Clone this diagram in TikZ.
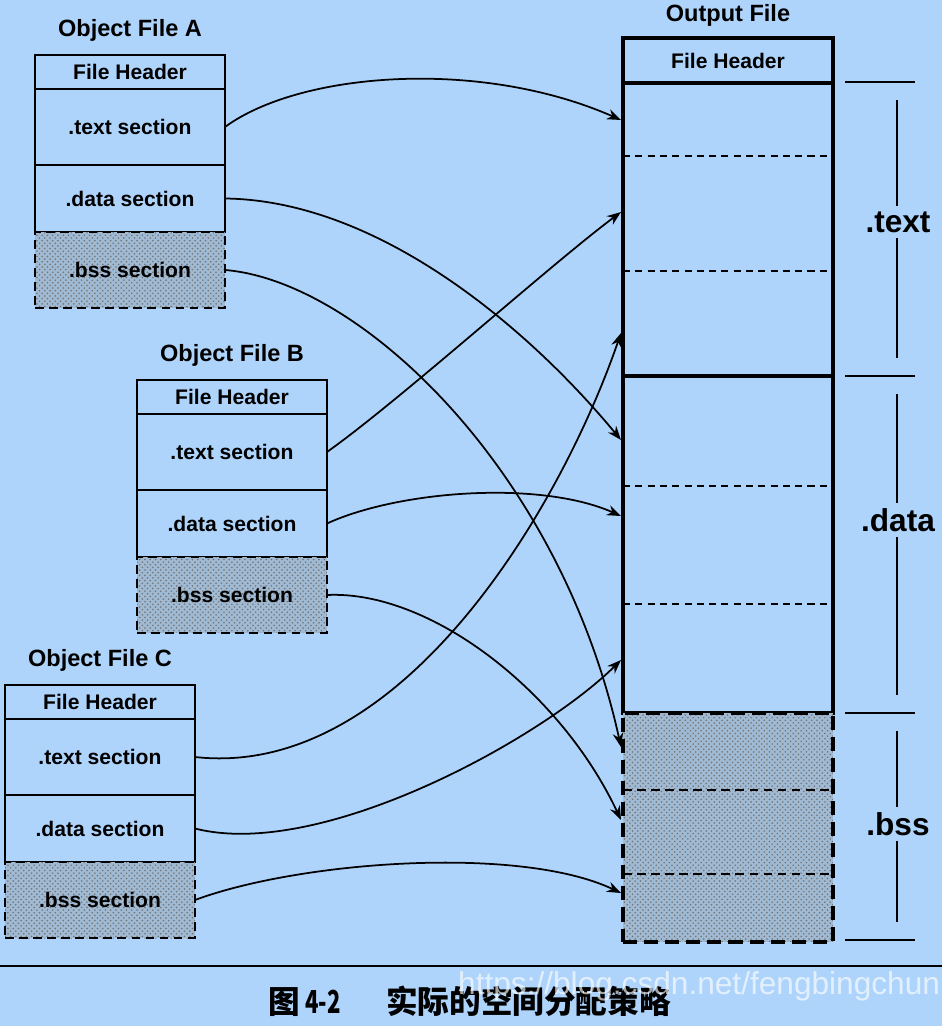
\documentclass[tikz,border=0pt]{standalone}
\usepackage{fontspec}
\setmainfont{Liberation Sans}
\newfontfamily\cjk{Noto Sans CJK SC}
\usetikzlibrary{positioning,arrows.meta,patterns}
\definecolor{paper}{RGB}{174,212,252}
\definecolor{stip}{RGB}{160,186,212}

\begin{document}
\begin{tikzpicture}[x=0.02cm,y=-0.02cm,>=Stealth,
  box/.style={draw,line width=1.6pt,minimum width=3.8cm,inner sep=0pt,outer sep=0pt,
    font=\fontsize{12}{14}\selectfont\bfseries},
  hdrbox/.style={box,minimum height=0.68cm},
  secbox/.style={box},
  bssbox/.style={box,minimum height=1.52cm,dash pattern=on 5pt off 3pt,
    preaction={fill=stip},pattern=crosshatch dots,pattern color=black!55},
  outbox/.style={draw,line width=2.6pt,minimum width=4.2cm,inner sep=0pt,outer sep=0pt,
    font=\fontsize{12}{14}\selectfont\bfseries},
  outbss/.style={outbox,dash pattern=on 8pt off 4pt,
    preaction={fill=stip},pattern=crosshatch dots,pattern color=black!55},
  title/.style={font=\fontsize{13.4}{15}\selectfont\bfseries},
  sidelab/.style={font=\fontsize{18}{20}\selectfont\bfseries,inner sep=3pt},
  arr/.style={-{Stealth[length=8pt,width=6pt]},line width=1pt}]

\useasboundingbox (0,0) rectangle (942,1026);
\fill[paper] (0,0) rectangle (942,1026);

%------------------------
% Object files A, B, C
%------------------------
\foreach \f/\x/\y in {A/130/55, B/232/380, C/100/685} {
  \node[hdrbox] (\f-hdr) at (\x,\y+17) {File Header};
  \node[secbox,minimum height=1.52cm] (\f-text) at (\x,\y+72) {.text section};
  \node[secbox,minimum height=1.34cm] (\f-data) at (\x,\y+143.5) {.data section};
  \node[bssbox] (\f-bss) at (\x,\y+215) {.bss section};
  \node[title,above=4pt of \f-hdr] (\f-title) {Object File \f};
}

%------------------------
% Output file
%------------------------
\node[outbox,minimum height=0.9cm] (out-hdr) at (728,60.5) {File Header};
\node[outbox,minimum height=5.86cm] (out-text) at (728,229.5) {};
\node[outbox,minimum height=6.74cm] (out-data) at (728,544.5) {};
\node[outbss,minimum height=4.58cm] (out-bss) at (728,827.5) {};
\node[title,above=3pt of out-hdr] (out-title) {Output File};

% pieces inside each part
\foreach \yy in {156,271,486,604}
  \draw[line width=0.9pt,dash pattern=on 4pt off 3pt] (623,\yy) -- (833,\yy);
\foreach \yy in {790,874}
  \draw[line width=1.6pt,dash pattern=on 5pt off 3pt] (623,\yy) -- (833,\yy);

%------------------------
% Where the sections land
%------------------------
\coordinate (in-A-text) at (621,120);
\coordinate (in-B-text) at (621,212);
\coordinate (in-C-text) at (621,333);
\coordinate (in-A-data) at (621,440);
\coordinate (in-B-data) at (621,516);
\coordinate (in-C-data) at (621,660);
\coordinate (in-A-bss) at (621,747);
\coordinate (in-B-bss) at (621,820);
\coordinate (in-C-bss) at (621,893);

%------------------------
% Arrows
%------------------------
\draw[arr] (A-text.east) .. controls +(75,-55) and +(-141,-62) .. (in-A-text);
\draw[arr] (A-data.east) .. controls +(155,2) and +(-91,-110) .. (in-A-data);
\draw[arr] (A-bss.east) .. controls +(135,11) and +(-61,-277) .. (in-A-bss);

\draw[arr] (B-text.east) .. controls +(72,-51) and +(-71,53) .. (in-B-text);
\draw[arr] (B-data.east) .. controls +(72,-33) and +(-81,-36) .. (in-B-data);
\draw[arr] (B-bss.east) .. controls +(102,-5) and +(-61,-130) .. (in-B-bss);

\draw[arr] (C-text.east) .. controls +(205,23) and +(-61,177) .. (in-C-text);
\draw[arr] (C-data.east) .. controls +(125,32) and +(-81,80) .. (in-C-data);
\draw[arr] (C-bss.east) .. controls +(105,-39) and +(-101,-48) .. (in-C-bss);

%------------------------
% Brackets on the right
%------------------------
\foreach \s/\ya/\ym/\yb in {text/82/222/376, data/376/520/713, bss/713/824/940} {
  \draw[line width=1.5pt] (845,\ya) -- (915,\ya);
  \draw[line width=1.5pt] (845,\yb) -- (915,\yb);
  \node[sidelab] (lab-\s) at (898,\ym) {.\s};
  \draw[line width=0.8pt] (897,\ya+18) -- (lab-\s.north -| 897,0);
  \draw[line width=0.8pt] (lab-\s.south -| 897,0) -- (897,\yb-18);
}

%------------------------
% Caption
%------------------------
\draw[line width=1.6pt] (0,966) -- (942,966);
\node[anchor=west,font=\cjk\fontsize{18}{20}\selectfont\bfseries] (caption) at (262,1001)
  {图\,\scalebox{0.7}[1]{4-2}\hspace{26pt}实际的空间分配策略};
\node[anchor=west,font=\fontsize{18}{20}\selectfont,text=white,opacity=.65] (mark) at (452,986)
  {https://blog.csdn.net/fengbingchun};

\end{tikzpicture}
\end{document}
